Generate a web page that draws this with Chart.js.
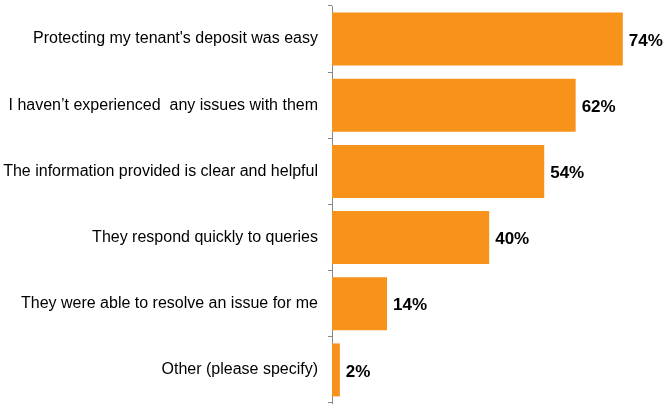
<!DOCTYPE html>
<html>
<head>
<meta charset="utf-8">
<script src="https://cdn.jsdelivr.net/npm/chart.js@4/dist/chart.umd.min.js"></script>
<style>
  body { margin:0; background:#fff; }
  #wrap { width:668px; height:409px; position:relative; }
</style>
</head>
<body>
<div id="wrap"><canvas id="barChart"></canvas></div>
<script>
const categories = [
  'Protecting my tenant\'s deposit was easy',
  'I haven\u2019t experienced  any issues with them',
  'The information provided is clear and helpful',
  'They respond quickly to queries',
  'They were able to resolve an issue for me',
  'Other (please specify)'
];
const values = [74, 62, 54, 40, 14, 2];

// draws the "74%" labels next to each bar
const valueLabels = {
  id:'valueLabels',
  afterDatasetsDraw(chart){
    const ctx = chart.ctx;
    const meta = chart.getDatasetMeta(0);
    ctx.save();
    ctx.font = 'bold 17px "Liberation Sans", Arial, sans-serif';
    ctx.fillStyle = '#000';
    ctx.textAlign = 'left';
    ctx.textBaseline = 'middle';
    meta.data.forEach((bar, i) => {
      ctx.fillText(values[i] + '%', bar.x + 6, bar.y + 2);
    });
    ctx.restore();
  }
};

new Chart(
  document.getElementById('barChart'),
  {
    type:'bar',
    data:{
      labels:categories,
      datasets:[{
        data:values,
        backgroundColor:'#F7921A',
        categoryPercentage:0.8,
        barPercentage:1
      }]
    },
    options:{
      indexAxis:'y',
      responsive:true,
      maintainAspectRatio:false,
      animation:false,
      layout:{ padding:{ top:6, bottom:6, left:0, right:0 } },
      plugins:{ legend:{ display:false }, tooltip:{ enabled:false } },
      scales:{
        x:{
          display:false,
          min:0,
          max:85.5
        },
        y:{
          afterFit(scale){
            scale.width = 332;
            scale.paddingTop = 0;
            scale.paddingBottom = 0;
          },
          border:{ display:true, color:'#888', width:1 },
          grid:{ drawOnChartArea:false, drawTicks:true, tickLength:4, color:'#888', offset:true },
          ticks:{
            color:'#000',
            padding:10,
            font:{ family:'"Liberation Sans", Arial, sans-serif', size:16 }
          }
        }
      }
    },
    plugins:[valueLabels]
  }
);
</script>
</body>
</html>
